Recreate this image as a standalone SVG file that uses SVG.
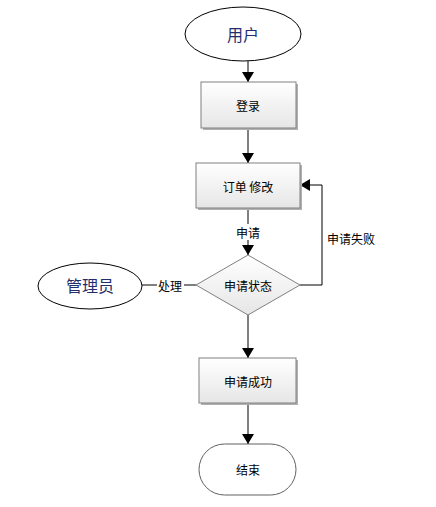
<svg xmlns="http://www.w3.org/2000/svg" width="436" height="507" viewBox="0 0 436 507">
<style>
.t{font-family:"Noto Sans CJK SC","Microsoft YaHei",sans-serif;font-size:12px;fill:#000;text-anchor:middle;dominant-baseline:central}
.big{font-family:"Noto Sans CJK SC",serif;font-size:16px;fill:#1f2f6e;text-anchor:middle;dominant-baseline:central}
.box{fill:url(#g);stroke:#808080;stroke-width:1}
.sh{fill:#b0b0b0}
.ln{fill:none;stroke:#000;stroke-width:1}
</style>
<defs>
<linearGradient id="g" x1="0" y1="0" x2="0" y2="1">
<stop offset="0" stop-color="#ffffff"/>
<stop offset="1" stop-color="#e6e6e6"/>
</linearGradient>
<marker id="a" markerWidth="10" markerHeight="12" refX="10" refY="6" orient="auto" markerUnits="userSpaceOnUse">
<path d="M0,0 L10,6 L0,12 z" fill="#000"/>
</marker>
</defs>
<g id="connectors">
<line class="ln" x1="248" y1="61" x2="248" y2="82" marker-end="url(#a)"/>
<line class="ln" x1="248" y1="128" x2="248" y2="163" marker-end="url(#a)"/>
<line class="ln" x1="248" y1="208" x2="248" y2="255" marker-end="url(#a)"/>
<rect x="235" y="224" width="26" height="16" fill="#fff"/>
<text class="t" x="248" y="232">申请</text>
<polyline class="ln" points="300,285 322,285 322,185 300,185" marker-end="url(#a)"/>
<text class="t" x="351" y="238">申请失败</text>
<line class="ln" x1="142" y1="285" x2="196" y2="285"/>
<rect x="157" y="277" width="27" height="16" fill="#fff"/>
<text class="t" x="170" y="285">处理</text>
<line class="ln" x1="248" y1="315" x2="248" y2="358" marker-end="url(#a)"/>
<line class="ln" x1="248" y1="403" x2="248" y2="444" marker-end="url(#a)"/>
</g>
<g id="user">
<ellipse cx="243" cy="34" rx="58" ry="27" fill="#fff" stroke="#000"/>
<text class="big" x="243" y="34">用户</text>
</g>
<g id="login">
<rect class="sh" x="203" y="84" width="95" height="46"/>
<rect class="box" x="201" y="82" width="95" height="46"/>
<text class="t" x="248" y="105">登录</text>
</g>
<g id="modify">
<rect class="sh" x="198" y="165" width="104" height="45"/>
<rect class="box" x="196" y="163" width="104" height="45"/>
<text class="t" x="248" y="186">订单 修改</text>
</g>
<g id="status">
<polygon points="248,255 300,285 248,315 196,285" fill="url(#g)" stroke="#808080"/>
<text class="t" x="248" y="285">申请状态</text>
</g>
<g id="admin">
<ellipse cx="90" cy="286" rx="52" ry="23" fill="#fff" stroke="#000"/>
<text class="big" x="90" y="285">管理员</text>
</g>
<g id="success">
<rect class="sh" x="201" y="360" width="97" height="45"/>
<rect class="box" x="199" y="358" width="97" height="45"/>
<text class="t" x="248" y="381">申请成功</text>
</g>
<g id="end">
<rect x="199" y="444" width="97" height="51" rx="25.5" ry="25.5" fill="#fff" stroke="#606060"/>
<text class="t" x="248" y="469">结束</text>
</g>
</svg>
